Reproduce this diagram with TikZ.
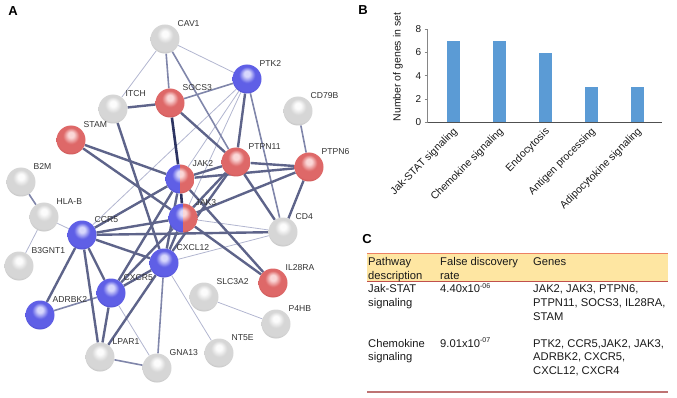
\documentclass[tikz,border=0pt]{standalone}
\usepackage{fontspec}
\setmainfont{Liberation Sans}
\usetikzlibrary{calc}
\pgfdeclarelayer{bg}
\pgfsetlayers{bg,main}

\definecolor{gHi}{RGB}{252,252,252}
\definecolor{gBase}{RGB}{214,214,214}
\definecolor{gDark}{RGB}{150,150,150}
\definecolor{rHi}{RGB}{250,215,215}
\definecolor{rBase}{RGB}{222,104,104}
\definecolor{rDark}{RGB}{160,45,45}
\definecolor{bHi}{RGB}{215,215,252}
\definecolor{bBase}{RGB}{95,95,230}
\definecolor{bDark}{RGB}{38,38,150}

\definecolor{cL}{RGB}{178,182,208}
\definecolor{cM}{RGB}{128,134,170}
\definecolor{cT}{RGB}{94,100,138}
\definecolor{cD}{RGB}{45,52,98}
\definecolor{labc}{RGB}{50,50,50}
\definecolor{barblue}{RGB}{91,155,213}
\definecolor{hdr}{RGB}{254,230,162}
\definecolor{topl}{RGB}{236,128,100}
\definecolor{midl}{RGB}{192,80,77}
\definecolor{botl}{RGB}{190,115,115}
\definecolor{tc}{RGB}{25,25,25}

\pgfdeclareradialshading{graysph}{\pgfpoint{0bp}{10bp}}{color(0bp)=(gHi); color(5bp)=(gHi); color(14bp)=(gBase); color(26bp)=(gBase); color(35bp)=(gDark); color(50bp)=(gDark)}
\pgfdeclareradialshading{redsph}{\pgfpoint{0bp}{10bp}}{color(0bp)=(rHi); color(5bp)=(rHi); color(14bp)=(rBase); color(26bp)=(rBase); color(35bp)=(rDark); color(50bp)=(rDark)}
\pgfdeclareradialshading{bluesph}{\pgfpoint{0bp}{10bp}}{color(0bp)=(bHi); color(5bp)=(bHi); color(14bp)=(bBase); color(26bp)=(bBase); color(35bp)=(bDark); color(50bp)=(bDark)}

\tikzset{
  sph/.style={circle, minimum size=29pt, inner sep=0pt},
  gn/.style={sph, shade, shading=graysph},
  rn/.style={sph, shade, shading=redsph},
  bn/.style={sph, shade, shading=bluesph},
  hn/.style={sph, path picture={
      \begin{scope}
        \clip (path picture bounding box.south west) rectangle (path picture bounding box.north);
        \shade[shading=bluesph] (path picture bounding box.south west) rectangle (path picture bounding box.north east);
      \end{scope}
      \begin{scope}
        \clip (path picture bounding box.south) rectangle (path picture bounding box.north east);
        \shade[shading=redsph] (path picture bounding box.south west) rectangle (path picture bounding box.north east);
      \end{scope}}},
  lab/.style={anchor=west, inner sep=0pt, text=labc, font=\fontsize{8.6}{10}\selectfont},
  eL/.style={draw=cL, line width=0.8pt},
  eM/.style={draw=cM, line width=1.6pt},
  eT/.style={draw=cT, line width=2.4pt},
  eD/.style={draw=cD, line width=2.6pt},
  pl/.style={inner sep=0pt, font=\fontsize{13}{13}\selectfont\bfseries},
  tick/.style={anchor=east, inner sep=0pt, font=\fontsize{10}{12}\selectfont, text=tc},
  cat/.style={anchor=east, rotate=45, inner sep=0pt, font=\fontsize{10.5}{12}\selectfont, text=tc},
  tt/.style={anchor=base west, inner sep=0pt, font=\fontsize{11.2}{13}\selectfont, text=tc},
  bar/.style={fill=barblue}
}
\newcommand\mkgene[4]{\node[#1] (#2) at (#3) {}; \node[lab] (#2-l) at ($(#2)+(12.5,-15.5)$) {#4};}
\newcommand\sexp[1]{\raisebox{0.75ex}{\fontsize{7}{7}\selectfont #1}}

\begin{document}
\begin{tikzpicture}[x=1pt,y=-1pt]
\useasboundingbox (0,0) rectangle (677,398);

% ---------------- Panel A -----------------
\node[pl] (A) at (13,11) {A};
\mkgene{gn}{CAV1}{165,39}{CAV1}
\mkgene{gn}{ITCH}{113,109}{ITCH}
\mkgene{rn}{SOCS3}{170,103}{SOCS3}
\mkgene{rn}{STAM}{71,140}{STAM}
\mkgene{gn}{B2M}{21,182}{B2M}
\mkgene{bn}{PTK2}{247,79}{PTK2}
\mkgene{gn}{CD79B}{298,111}{CD79B}
\mkgene{rn}{PTPN11}{236,162}{PTPN11}
\mkgene{rn}{PTPN6}{309,167}{PTPN6}
\mkgene{hn}{JAK2}{180,179}{JAK2}
\mkgene{hn}{JAK3}{183,218}{JAK3}
\mkgene{gn}{HLAB}{44,217}{HLA-B}
\mkgene{gn}{B3GNT1}{19,266}{B3GNT1}
\mkgene{bn}{CCR5}{82,235}{CCR5}
\mkgene{bn}{CXCL12}{164,263}{CXCL12}
\mkgene{bn}{CXCR5}{111,293}{CXCR5}
\mkgene{bn}{ADRBK2}{40,315}{ADRBK2}
\mkgene{gn}{LPAR1}{100,357}{LPAR1}
\mkgene{gn}{GNA13}{157,368}{GNA13}
\mkgene{gn}{CD4}{283,232}{CD4}
\mkgene{rn}{IL28RA}{273,283}{IL28RA}
\mkgene{gn}{SLC3A2}{204,297}{SLC3A2}
\mkgene{gn}{P4HB}{276,324}{P4HB}
\mkgene{gn}{NT5E}{219,353}{NT5E}

\begin{pgfonlayer}{bg}
% thin light
\draw[eL] (CAV1) -- (PTK2);
\draw[eL] (CAV1) -- (ITCH);
\draw[eL] (PTK2) -- (JAK2);
\draw[eL] (PTK2) -- (JAK3);
\draw[eL] (PTK2) -- (CCR5);
\draw[eL] (HLAB) -- (CCR5);
\draw[eL] (HLAB) -- (B3GNT1);
\draw[eL] (CXCL12) -- (NT5E);
\draw[eL] (CXCL12) -- (CD4);
\draw[eL] (JAK3) -- (CD4);
\draw[eL] (CXCR5) -- (GNA13);
\draw[eL] (SLC3A2) -- (P4HB);
% medium
\draw[eM] (CAV1) -- (SOCS3);
\draw[eM] (CAV1) -- (PTPN11);
\draw[eM] (SOCS3) -- (PTK2);
\draw[eM] (PTK2) -- (CD4);
\draw[eM] (CD79B) -- (PTPN6);
\draw[eM] (HLAB) -- (B2M);
\draw[eM] (CXCR5) -- (ADRBK2);
\draw[eM] (CXCL12) -- (GNA13);
\draw[eM] (LPAR1) -- (GNA13);
% thick
\draw[eT] (ITCH) -- (SOCS3);
\draw[eT] (ITCH) -- (CXCL12);
\draw[eT] (SOCS3) -- (PTPN11);
\draw[eT] (STAM) -- (JAK2);
\draw[eT] (STAM) -- (JAK3);
\draw[eT] (PTK2) -- (PTPN11);
\draw[eT] (JAK2) -- (PTPN11);
\draw[eT] (JAK2) -- (PTPN6);
\draw[eT] (JAK3) -- (PTPN11);
\draw[eT] (JAK3) -- (PTPN6);
\draw[eT] (PTPN11) -- (PTPN6);
\draw[eT] (PTPN11) -- (CD4);
\draw[eT] (PTPN6) -- (CD4);
\draw[eT] (JAK2) -- (IL28RA);
\draw[eT] (JAK3) -- (IL28RA);
\draw[eT] (CCR5) -- (JAK2);
\draw[eT] (CCR5) -- (JAK3);
\draw[eT] (CCR5) -- (CD4);
\draw[eT] (CCR5) -- (CXCL12);
\draw[eT] (CCR5) -- (CXCR5);
\draw[eT] (CCR5) -- (ADRBK2);
\draw[eT] (CCR5) -- (LPAR1);
\draw[eT] (CXCL12) -- (CXCR5);
\draw[eT] (CXCL12) -- (JAK3);
\draw[eT] (CXCL12) -- (JAK2);
\draw[eT] (CXCL12) -- (LPAR1);
\draw[eT] (CXCL12) -- (PTPN11);
\draw[eT] (CXCR5) -- (LPAR1);
\draw[eT] (CXCR5) -- (JAK2);
\draw[eT] (CXCR5) -- (JAK3);
% dark
\draw[eD] (SOCS3) -- (JAK2);
\draw[eD] (JAK2) -- (JAK3);
\end{pgfonlayer}

% ---------------- Panel B -----------------
\node[pl] (B) at (363,10) {B};
\draw[draw={rgb,255:red,134;green,134;blue,134}, line width=0.8pt] (427.7,29.3) -- (427.7,122.3);
\foreach \v/\yy in {0/122.3,2/99.05,4/75.8,6/52.55,8/29.3}{
  \draw[draw={rgb,255:red,134;green,134;blue,134}, line width=0.8pt] (424.5,\yy) -- (427.7,\yy);
  \node[tick] (tk\v) at (421.5,\yy) {\v};
}
\fill[bar] (446.6,122.3) rectangle (460.0,40.9);
\fill[bar] (493.0,122.3) rectangle (506.4,40.9);
\fill[bar] (538.6,122.3) rectangle (552.0,52.55);
\fill[bar] (584.8,122.3) rectangle (598.2,87.4);
\fill[bar] (631.0,122.3) rectangle (644.4,87.4);
\draw[draw={rgb,255:red,80;green,80;blue,80}, line width=1pt] (427.7,122.3) -- (661.7,122.3);
\node[rotate=90, inner sep=0pt, font=\fontsize{10.5}{12}\selectfont, text=tc] (ylab) at (398,67) {Number of genes in set};
\node[cat] (c1) at (456,130) {Jak-STAT signaling};
\node[cat] (c2) at (502,130) {Chemokine signaling};
\node[cat] (c3) at (548,130) {Endocytosis};
\node[cat] (c4) at (594,130) {Antigen processing};
\node[cat] (c5) at (640,130) {Adipocytokine signaling};

% ---------------- Panel C -----------------
\node[pl] (C) at (367,239) {C};
\fill[hdr] (367,253.3) rectangle (668,281.7);
\draw[draw=topl, line width=1.2pt] (367,253.3) -- (668,253.3);
\draw[draw=midl, line width=0.8pt] (367,281.7) -- (668,281.7);
\draw[draw=botl, line width=1.8pt] (367,391.7) -- (668,391.7);

\node[tt] (h1a) at (368,265.8) {Pathway};
\node[tt] (h1b) at (368,279.0) {description};
\node[tt] (h2a) at (440,265.8) {False discovery};
\node[tt] (h2b) at (440,279.0) {rate};
\node[tt] (h3a) at (533,265.8) {Genes};

\node[tt] (r1a) at (368,292.8) {Jak-STAT};
\node[tt] (r1b) at (368,306.6) {signaling};
\node[tt] (r1c) at (440,292.8) {4.40x10\sexp{-06}};
\node[tt] (r1d) at (533,292.8) {JAK2, JAK3, PTPN6,};
\node[tt] (r1e) at (533,306.6) {PTPN11, SOCS3, IL28RA,};
\node[tt] (r1f) at (533,320.4) {STAM};

\node[tt] (r2a) at (368,347.1) {Chemokine};
\node[tt] (r2b) at (368,360.9) {signaling};
\node[tt] (r2c) at (440,347.1) {9.01x10\sexp{-07}};
\node[tt] (r2d) at (533,347.1) {PTK2, CCR5,JAK2, JAK3,};
\node[tt] (r2e) at (533,360.9) {ADRBK2, CXCR5,};
\node[tt] (r2f) at (533,374.7) {CXCL12, CXCR4};
\end{tikzpicture}
\end{document}
